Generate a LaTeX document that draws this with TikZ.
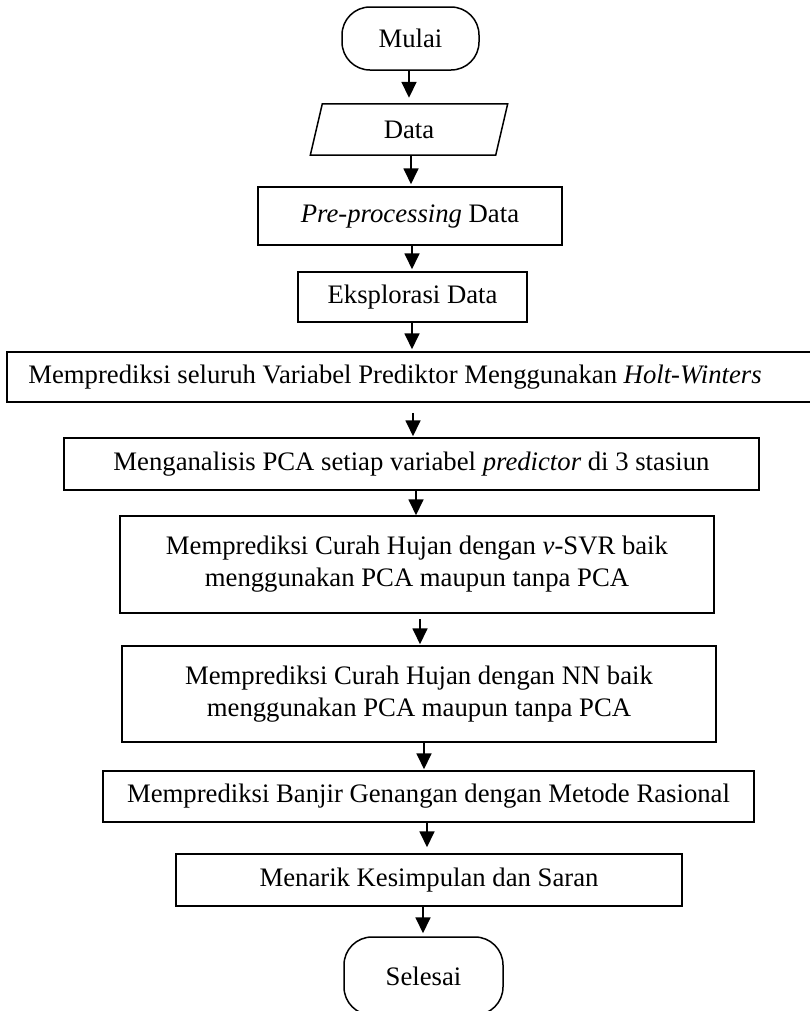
\documentclass[tikz,border=0pt]{standalone}
\usepackage{fontspec}
\setmainfont{Liberation Serif}
\usetikzlibrary{arrows.meta}
\begin{document}
\begin{tikzpicture}[x=1bp,y=-1bp,
  every node/.style={font=\fontsize{26.7bp}{32bp}\selectfont, inner sep=0pt, align=center},
  outline/.style={line width=1.5bp},
  proc/.style 2 args={draw, outline, minimum width=#1, minimum height=#2},
  terminal/.style 2 args={draw, outline, rounded corners=28bp, minimum width=#1, minimum height=#2},
  flow/.style={line width=1.8bp, -{Triangle[width=15bp,length=16bp]}}
]
\useasboundingbox (0,0) rectangle (810,1011);

% start / end terminals
\node[terminal={137bp}{63bp}] (mulai) at (410.5,38.5) {Mulai};
\node[terminal={159bp}{78bp}] (selesai) at (423.5,976) {Selesai};

% input (parallelogram drawn from the node's corners)
\node[minimum width=185bp, minimum height=51bp] (data) at (409,129.5) {Data};
\draw[outline] ([xshift=6bp]data.north west) -- ([xshift=6bp]data.north east)
  -- ([xshift=-6bp]data.south east) -- ([xshift=-6bp]data.south west) -- cycle;

% process steps
\node[proc={304bp}{58bp}] (pre) at (410,216) {\textit{Pre-processing} Data};
\node[proc={229bp}{50bp}] (eks) at (412.5,297) {Eksplorasi Data};
\node[proc={808bp}{50bp}] (hw) at (411,377)
  {Memprediksi seluruh Variabel Prediktor Menggunakan \textit{Holt-Winters}\hspace*{32bp}};
\node[proc={695bp}{52bp}] (pca) at (411.5,464)
  {Menganalisis PCA setiap variabel \textit{predictor} di 3 stasiun};
\node[proc={594bp}{97bp}] (svr) at (417,564.5)
  {Memprediksi Curah Hujan dengan \textit{ν}-SVR baik\\menggunakan PCA maupun tanpa PCA};
\node[proc={594bp}{96bp}] (nn) at (419,694)
  {Memprediksi Curah Hujan dengan NN baik\\menggunakan PCA maupun tanpa PCA};
\node[proc={651bp}{51bp}] (banjir) at (428.5,796.5)
  {Memprediksi Banjir Genangan dengan Metode Rasional};
\node[proc={506bp}{52bp}] (kes) at (429,880) {Menarik Kesimpulan dan Saran};

% connectors
\draw[flow] ([xshift=-1.5bp]mulai.south) -- ([xshift=-1.5bp,yshift=6bp]mulai.south |- data.north);
\draw[flow] ([xshift=2bp]data.south) -- ([xshift=2bp,yshift=2bp]data.south |- pre.north);
\draw[flow] ([xshift=2bp]pre.south) -- ([xshift=2bp,yshift=2bp]pre.south |- eks.north);
\draw[flow] ([xshift=-0.5bp]eks.south) -- ([xshift=-0.5bp,yshift=2bp]eks.south |- hw.north);
\draw[flow] ([xshift=2bp,yshift=-10bp]hw.south) -- ([xshift=2bp,yshift=1bp]hw.south |- pca.north);
\draw[flow] ([xshift=4.5bp]pca.south) -- ([xshift=4.5bp]pca.south |- svr.north);
\draw[flow] ([xshift=3bp,yshift=-5bp]svr.south) -- ([xshift=3bp,yshift=1bp]svr.south |- nn.north);
\draw[flow] ([xshift=5bp]nn.south) -- ([xshift=5bp,yshift=1bp]nn.south |- banjir.north);
\draw[flow] ([xshift=-1.5bp]banjir.south) -- ([xshift=-1.5bp,yshift=6bp]banjir.south |- kes.north);
\draw[flow] ([xshift=-6bp]kes.south) -- ([xshift=-6bp,yshift=3bp]kes.south |- selesai.north);
\end{tikzpicture}
\end{document}
